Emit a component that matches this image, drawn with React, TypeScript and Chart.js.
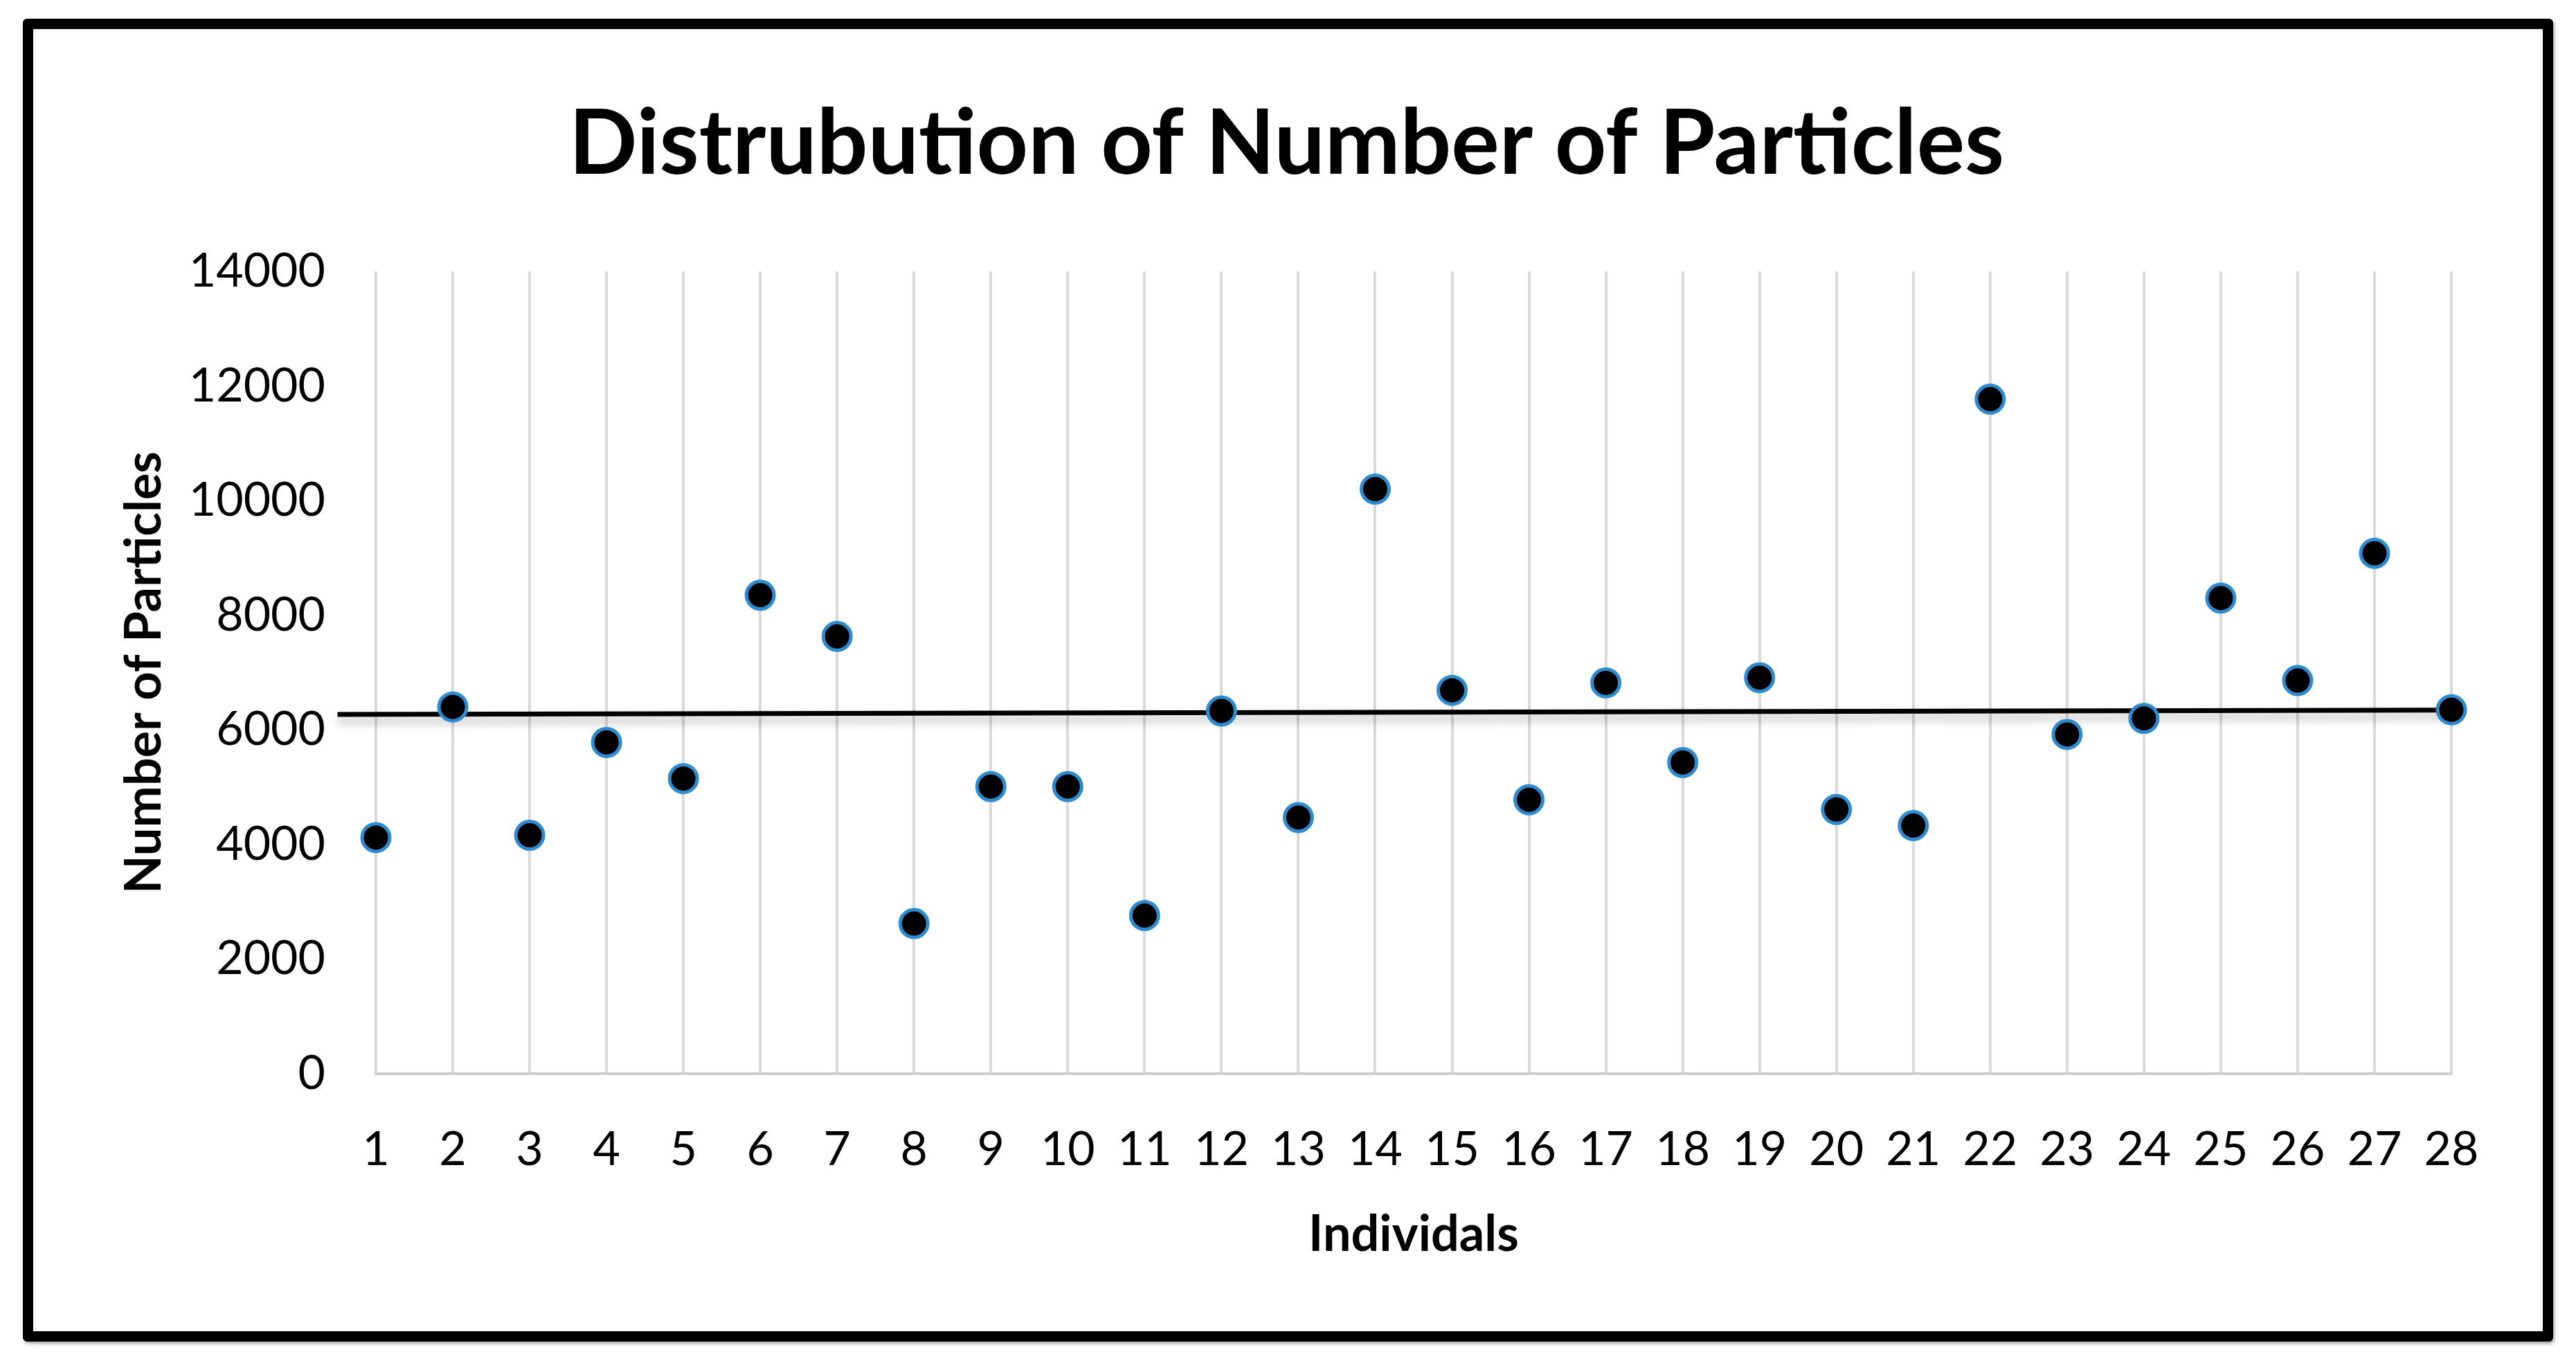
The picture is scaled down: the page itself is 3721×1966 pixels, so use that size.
import React, { useEffect, useRef } from "react";
import { Chart, registerables } from "chart.js";

Chart.register(...registerables);

const individuals: number[] = [1, 2, 3, 4, 5, 6, 7, 8, 9, 10, 11, 12, 13, 14, 15, 16, 17, 18, 19, 20, 21, 22, 23, 24, 25, 26, 27, 28];
const particles: number[] = [4120, 6400, 4160, 5780, 5150, 8350, 7630, 2620, 5010, 5010, 2760, 6330, 4470, 10200, 6690, 4780, 6820, 5430, 6910, 4610, 4330, 11770, 5920, 6200, 8300, 6860, 9080, 6350];
const trendX: number[] = [0.5, 28];
const trendY: number[] = [6270, 6345];
const yTicks: number[] = [0, 2000, 4000, 6000, 8000, 10000, 12000, 14000];

const W = 3721;
const H = 1966;

const shadowPlugin = {
  id: "trendShadow",
  beforeDatasetDraw(chart: any, args: any) {
    if (args.index === 1) {
      const ctx = chart.ctx;
      ctx.save();
      ctx.shadowColor = "rgba(0,0,0,0.28)";
      ctx.shadowBlur = 14;
      ctx.shadowOffsetX = 0;
      ctx.shadowOffsetY = 9;
    }
  },
  afterDatasetDraw(chart: any, args: any) {
    if (args.index === 1) {
      chart.ctx.restore();
    }
  },
};

export default function App() {
  const ref = useRef<HTMLCanvasElement | null>(null);

  useEffect(() => {
    document.body.style.margin = "0";
    const canvas = ref.current;
    if (!canvas) return;
    const chart = new Chart(canvas, {
      type: "scatter",
      data: {
        datasets: [
          {
            label: "Number of Particles",
            data: individuals.map((x, i) => ({ x, y: particles[i] })),
            backgroundColor: "#000000",
            borderColor: "#2e8bd0",
            borderWidth: 5,
            pointRadius: 20,
            pointHoverRadius: 20,
            clip: false as any,
          } as any,
          {
            type: "line",
            label: "Trend",
            data: trendX.map((x, i) => ({ x, y: trendY[i] })),
            borderColor: "#000000",
            borderWidth: 7,
            pointRadius: 0,
            fill: false,
            clip: false as any,
            showLine: true,
          } as any,
        ],
      },
      options: {
        animation: false,
        responsive: false,
        devicePixelRatio: 1,
        layout: { padding: { left: 176, right: 180, top: 0, bottom: 0 } },
        plugins: {
          legend: { display: false },
          tooltip: { enabled: false },
          title: {
            display: true,
            text: "Distrubution of Number of Particles",
            color: "#000000",
            font: { family: "Lato", weight: "bold", size: 130 },
            padding: { top: 131, bottom: 105 },
          },
        },
        scales: {
          x: {
            type: "linear",
            min: 1,
            max: 28,
            afterFit: (s: any) => {
              s.height = 415;
            },
            ticks: {
              stepSize: 1,
              autoSkip: false,
              maxRotation: 0,
              padding: 69,
              color: "#000000",
              font: { family: "Lato", size: 68 },
              callback: (v: any) => String(v),
            },
            grid: {
              display: true,
              color: "#d9d9d9",
              lineWidth: 4,
              drawTicks: false,
            },
            border: { display: true, color: "#d0d0d0", width: 4 },
            title: {
              display: true,
              text: "Individals",
              color: "#000000",
              font: { family: "Lato", weight: "bold", size: 72 },
              padding: { top: 0, bottom: 139 },
            },
          },
          y: {
            type: "linear",
            min: 0,
            max: 14000,
            afterFit: (s: any) => {
              s.width = 367;
            },
            afterBuildTicks: (s: any) => {
              s.ticks = yTicks.map((v) => ({ value: v }));
            },
            ticks: {
              padding: 73,
              color: "#000000",
              font: { family: "Lato", size: 68 },
              callback: (v: any) => String(v),
            },
            grid: { display: false, drawTicks: false },
            border: { display: false },
            title: {
              display: true,
              text: "Number of Particles",
              color: "#000000",
              font: { family: "Lato", weight: "bold", size: 72 },
              padding: { top: -10, bottom: 0 },
            },
          },
        },
      },
      plugins: [shadowPlugin],
    });
    return () => chart.destroy();
  }, []);

  return (
    <div style={{ position: "relative", width: W, height: H, background: "#ffffff", overflow: "hidden" }}>
      <canvas ref={ref} width={W} height={H} style={{ position: "absolute", left: 0, top: 0, width: W, height: H, display: "block" }} />
      <div
        style={{
          position: "absolute",
          left: 33,
          top: 27,
          width: 3655,
          height: 1911,
          boxSizing: "border-box",
          border: "15px solid #000000",
          borderRadius: 6,
          boxShadow: "2px 3px 5px rgba(0,0,0,0.35)",
          pointerEvents: "none",
        }}
      />
    </div>
  );
}
